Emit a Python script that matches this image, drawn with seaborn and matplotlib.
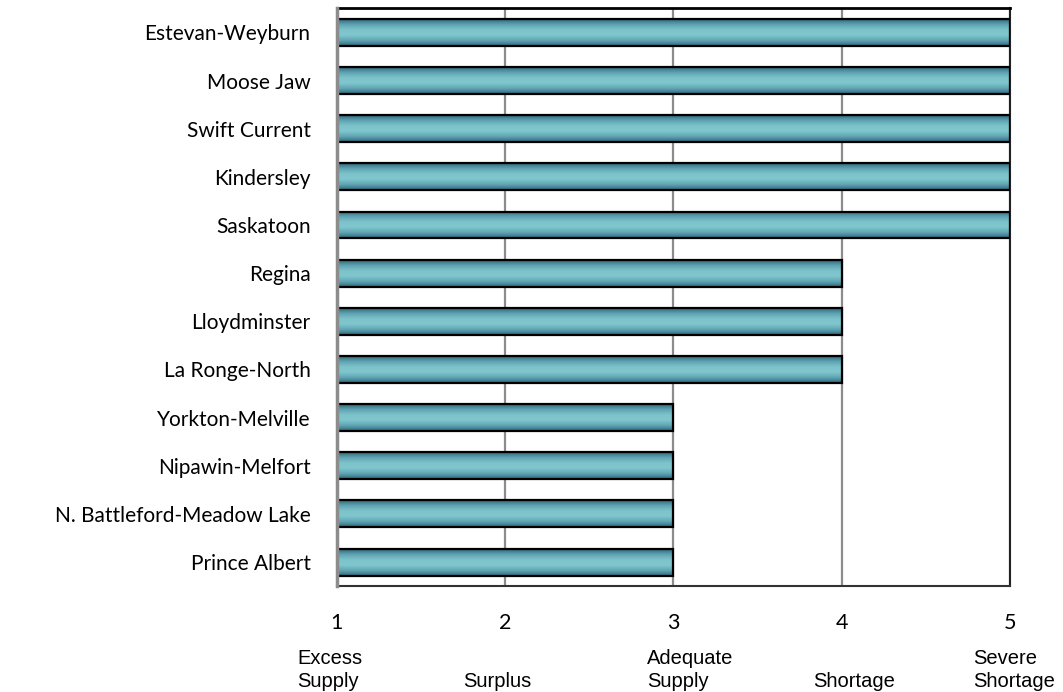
import numpy as np
import pandas as pd
import matplotlib
matplotlib.use("Agg")
import matplotlib.pyplot as plt
from matplotlib.colors import LinearSegmentedColormap
import seaborn as sns

regions = ["Estevan-Weyburn", "Moose Jaw", "Swift Current", "Kindersley", "Saskatoon",
           "Regina", "Lloydminster", "La Ronge-North", "Yorkton-Melville",
           "Nipawin-Melfort", "N. Battleford-Meadow Lake", "Prince Albert"]
scores = [5, 5, 5, 5, 5, 4, 4, 4, 3, 3, 3, 3]
tick_values = [1, 2, 3, 4, 5]
scale_labels = ["Excess\nSupply", "Surplus", "Adequate\nSupply", "Shortage", "Severe\nShortage"]

df = pd.DataFrame({"region": regions, "score": scores})

sns.set_theme(style="white")
plt.rcParams['font.family'] = ['Lato', 'DejaVu Sans']

fig = plt.figure(figsize=(10.63, 6.92), dpi=100)
ax = fig.add_axes([0.317, 0.153, 0.633, 0.835])

sns.barplot(data=df, y="region", x="score", orient="h", ax=ax, width=0.56,
            color="#6fb7c1", edgecolor="black", linewidth=1.6, zorder=3)

XMIN, XMAX = 1, 5
ax.set_xlim(XMIN, XMAX)
ax.set_ylim(len(regions) - 0.5, -0.5)

cmap = LinearSegmentedColormap.from_list(
    "bar", ["#2f6478", "#5fa4b2", "#7dc3cb", "#80c6cd", "#5fa4b2", "#2f6478"])
grad = np.linspace(0, 1, 256).reshape(-1, 1)
for p in list(ax.patches):
    x0, y0 = p.get_x(), p.get_y()
    w, h = p.get_width(), p.get_height()
    left = max(x0, XMIN)
    ax.imshow(grad, cmap=cmap, aspect="auto", extent=[left, x0 + w, y0 + h, y0],
              zorder=2.5, interpolation="bilinear")
    p.set_facecolor("none")
ax.set_xlim(XMIN, XMAX)
ax.set_ylim(len(regions) - 0.5, -0.5)

ax.set_xticks(tick_values)
ax.set_xticklabels([str(v) for v in tick_values], fontsize=15.5)
ax.tick_params(axis="x", length=0, pad=19, colors="black")
ax.tick_params(axis="y", length=0, pad=19, labelsize=15, colors="black")
ax.set_xlabel("")
ax.set_ylabel("")
ax.xaxis.grid(True, color="#8c8c8c", linewidth=1.6, zorder=0)
ax.yaxis.grid(False)
ax.set_axisbelow(True)

ax.spines["left"].set_color("#8c8c8c")
ax.spines["left"].set_linewidth(2.5)
ax.spines["left"].set_zorder(4)
ax.spines["top"].set_color("black")
ax.spines["top"].set_linewidth(2)
ax.spines["right"].set_color("#222222")
ax.spines["right"].set_linewidth(1.5)
ax.spines["bottom"].set_color("#333333")
ax.spines["bottom"].set_linewidth(1.5)

label_x = [297, 463, 647, 813, 973]
for lx, lab in zip(label_x, scale_labels):
    fig.text(lx / 1063, 1 - 691 / 692, lab, ha="left", va="bottom", color="black",
             fontsize=14.5, family=["Liberation Sans"], linespacing=1.28)

fig.savefig("out.png", dpi=100)
